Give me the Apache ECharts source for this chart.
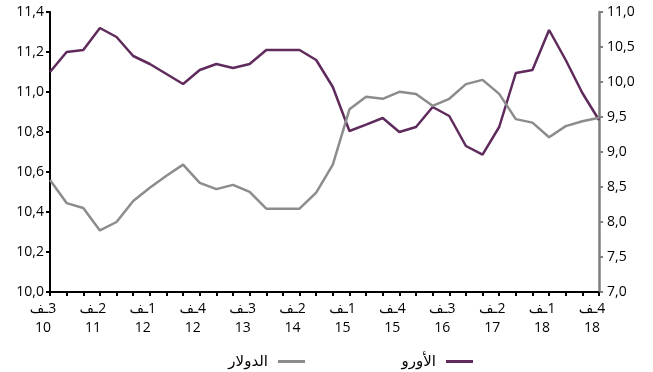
<!DOCTYPE html>
<html>
<head>
<meta charset="utf-8">
<script src="https://cdn.jsdelivr.net/npm/echarts@6/dist/echarts.min.js"></script>
<style>
  html, body { margin: 0; padding: 0; background: #fff; }
  #chart { width: 653px; height: 372px; }
</style>
</head>
<body>
<div id="chart"></div>
<script>
// Quarter number and two-digit year for each period (Q3 2010 .. Q4 2018)
const quarters = [3, 4, 1, 2, 3, 4, 1, 2, 3, 4, 1, 2, 3, 4, 1, 2, 3, 4,
                  1, 2, 3, 4, 1, 2, 3, 4, 1, 2, 3, 4, 1, 2, 3, 4];
const years = ['10', '10', '11', '11', '11', '11', '12', '12', '12', '12', '13', '13', '13', '13',
               '14', '14', '14', '14', '15', '15', '15', '15', '16', '16', '16', '16',
               '17', '17', '17', '17', '18', '18', '18', '18'];

// Euro (left axis)
const euroValues = [11.10, 11.20, 11.21, 11.32, 11.275, 11.18, 11.14, 11.09, 11.04, 11.11,
                    11.14, 11.12, 11.14, 11.21, 11.21, 11.21, 11.16, 11.025, 10.805, 10.837,
                    10.87, 10.80, 10.825, 10.925, 10.88, 10.73, 10.687, 10.825, 11.095, 11.11,
                    11.31, 11.16, 10.995, 10.86];

// Dollar (right axis)
const dollarValues = [8.60, 8.27, 8.20, 7.88, 8.00, 8.30, 8.49, 8.66, 8.82, 8.56,
                      8.47, 8.53, 8.43, 8.19, 8.19, 8.19, 8.42, 8.82, 9.61, 9.79,
                      9.76, 9.86, 9.83, 9.66, 9.76, 9.97, 10.03, 9.83, 9.47, 9.42,
                      9.21, 9.37, 9.44, 9.49];

const seriesNames = ['الأورو', 'الدولار'];
const quarterPrefix = 'ـف';

const categories = quarters.map((q, i) => '\u200F' + q + quarterPrefix + '\n' + years[i]);

const fontFamily = '"Open Sans", "DejaVu Sans", sans-serif';
const comma = v => v.toFixed(1).replace('.', ',');

const legendBase = {
  top: 349,
  align: 'right',
  icon: 'rect',
  itemWidth: 27,
  itemHeight: 3,
  textStyle: { fontSize: 15, color: '#000', fontFamily: fontFamily, padding: [0, 5, 0, 0] }
};

const chart = echarts.init(document.getElementById('chart'), null, { renderer: 'canvas' });
chart.setOption({
  animation: false,
  backgroundColor: '#ffffff',
  textStyle: { fontFamily: fontFamily },
  grid: { left: 50, right: 54, top: 12, bottom: 80, containLabel: false },
  legend: [
    Object.assign({}, legendBase, { data: [seriesNames[1]], right: 343 }),
    Object.assign({}, legendBase, { data: [seriesNames[0]], right: 175 })
  ],
  xAxis: {
    type: 'category',
    data: categories,
    boundaryGap: false,
    axisLine: { lineStyle: { color: '#000', width: 2 } },
    axisTick: { show: true, interval: 0, length: 4, lineStyle: { color: '#000', width: 2 } },
    axisLabel: {
      interval: 2,
      margin: 8,
      fontSize: 14,
      lineHeight: 19,
      color: '#000',
      padding: [0, 14, 0, 0]
    },
    splitLine: { show: false }
  },
  yAxis: [
    {
      type: 'value',
      min: 10,
      max: 11.4,
      interval: 0.2,
      position: 'left',
      axisLine: { show: true, lineStyle: { color: '#000', width: 2 } },
      axisTick: { show: true, length: 4, lineStyle: { color: '#000', width: 2 } },
      axisLabel: { formatter: comma, fontSize: 14, color: '#000', margin: 6 },
      splitLine: { show: false }
    },
    {
      type: 'value',
      min: 7,
      max: 11,
      interval: 0.5,
      position: 'right',
      axisLine: { show: true, lineStyle: { color: '#7f7f7f', width: 2.5 } },
      axisTick: { show: true, length: 4, lineStyle: { color: '#7f7f7f', width: 2 } },
      axisLabel: { formatter: comma, fontSize: 14, color: '#000', margin: 8 },
      splitLine: { show: false }
    }
  ],
  series: [
    {
      name: seriesNames[0],
      type: 'line',
      yAxisIndex: 0,
      data: euroValues,
      showSymbol: false,
      symbol: 'none',
      itemStyle: { color: '#5f2a5c' },
      lineStyle: { color: '#5f2a5c', width: 2.5 }
    },
    {
      name: seriesNames[1],
      type: 'line',
      yAxisIndex: 1,
      data: dollarValues,
      showSymbol: false,
      symbol: 'none',
      itemStyle: { color: '#8c8c8c' },
      lineStyle: { color: '#8c8c8c', width: 2.5 }
    }
  ]
});
</script>
</body>
</html>
